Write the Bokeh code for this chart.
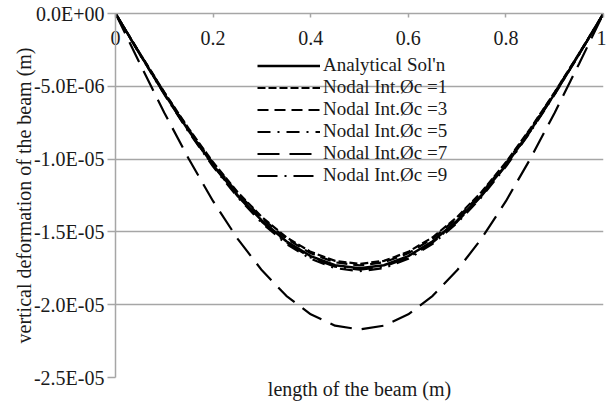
from bokeh.plotting import figure
from bokeh.models import (Range1d, LinearAxis, FixedTicker, CustomJSTickFormatter,
                          Legend, LegendItem)
from bokeh.embed import file_html
from bokeh.resources import INLINE

# ---- data, deflection in micrometres ----
x_pos = [0.0, 0.05, 0.1, 0.15, 0.2, 0.25, 0.3, 0.35, 0.4, 0.45, 0.5,
         0.55, 0.6, 0.65, 0.7, 0.75, 0.8, 0.85, 0.9, 0.95, 1.0]

analytical = [0, -2.79, -5.50, -8.05, -10.40, -12.47, -14.23, -15.64, -16.66, -17.29, -17.50,
              -17.29, -16.66, -15.64, -14.23, -12.47, -10.40, -8.05, -5.50, -2.79, 0]
nodal_1 = [0, -2.74, -5.40, -7.91, -10.22, -12.26, -13.98, -15.37, -16.37, -16.99, -17.20,
           -16.99, -16.37, -15.37, -13.98, -12.26, -10.22, -7.91, -5.40, -2.74, 0]
nodal_3 = [0, -2.75, -5.43, -7.96, -10.28, -12.33, -14.06, -15.46, -16.47, -17.09, -17.30,
           -17.09, -16.47, -15.46, -14.06, -12.33, -10.28, -7.96, -5.43, -2.75, 0]
nodal_5 = [0, -2.82, -5.56, -8.14, -10.51, -12.61, -14.39, -15.82, -16.85, -17.49, -17.70,
           -17.49, -16.85, -15.82, -14.39, -12.61, -10.51, -8.14, -5.56, -2.82, 0]
nodal_7 = [0, -3.45, -6.81, -9.98, -12.89, -15.46, -17.64, -19.39, -20.66, -21.44, -21.70,
           -21.44, -20.66, -19.39, -17.64, -15.46, -12.89, -9.98, -6.81, -3.45, 0]
nodal_9 = [0, -2.80, -5.53, -8.10, -10.45, -12.54, -14.31, -15.73, -16.76, -17.39, -17.60,
           -17.39, -16.76, -15.73, -14.31, -12.54, -10.45, -8.10, -5.53, -2.80, 0]
SCALE = 1e-6

x_ticks = [0, 0.2, 0.4, 0.6, 0.8, 1.0]
y_ticks = [0.0, -5e-6, -1e-5, -1.5e-5, -2e-5, -2.5e-5]

labels = ["Analytical Sol'n", "Nodal Int.Øc =1", "Nodal Int.Øc =3",
          "Nodal Int.Øc =5", "Nodal Int.Øc =7", "Nodal Int.Øc =9"]
series = [analytical, nodal_1, nodal_3, nodal_5, nodal_7, nodal_9]
dashes = ["solid", "8 3", "11 6", "13 7 2 7", "22 10", "20 7 2 7"]
widths = [2.5, 2.2, 2.2, 2.2, 2.2, 2.2]

FONT = "Liberation Serif"
FS = "20px"
GRID = "#a6a6a6"
TXT = "#1a1a1a"

p = figure(width=606, height=407, output_backend="svg", toolbar_location=None,
           x_range=Range1d(0, 1), y_range=Range1d(-2.5e-5, 0),
           x_axis_location="above", min_border_left=115, min_border_right=3,
           min_border_top=13, min_border_bottom=30)
p.outline_line_color = None
p.background_fill_color = "white"
p.border_fill_color = "white"

# top x axis with labels just under the line
xa = p.xaxis[0]
xa.ticker = FixedTicker(ticks=x_ticks)
xa.axis_line_color = GRID
xa.axis_line_width = 1.5
xa.major_tick_line_color = GRID
xa.major_tick_line_width = 1.5
xa.major_tick_in = 4
xa.major_tick_out = 0
xa.minor_tick_line_color = None
xa.major_label_standoff = -31
xa.major_label_text_font = FONT
xa.major_label_text_font_size = FS
xa.major_label_text_color = TXT

# bottom axis only carries the title
xb = LinearAxis(axis_label="length of the beam (m)")
xb.ticker = FixedTicker(ticks=[])
xb.axis_line_color = None
xb.major_tick_line_color = None
xb.minor_tick_line_color = None
xb.major_label_text_font_size = "0px"
xb.axis_label_standoff = 0
xb.axis_label_text_font = FONT
xb.axis_label_text_font_size = FS
xb.axis_label_text_font_style = "normal"
xb.axis_label_text_color = TXT
p.add_layout(xb, "below")

ya = p.yaxis[0]
ya.ticker = FixedTicker(ticks=y_ticks)
ya.formatter = CustomJSTickFormatter(code="""
    const s = tick.toExponential(1);
    let parts = s.split('e');
    let m = parts[0], e = parts[1];
    const sign = e[0] === '-' ? '-' : '+';
    e = e.replace('+', '').replace('-', '');
    if (e.length < 2) { e = '0' + e; }
    return m + 'E' + sign + e;
""")
ya.axis_line_color = GRID
ya.axis_line_width = 1.5
ya.major_tick_line_color = GRID
ya.major_tick_line_width = 1.5
ya.major_tick_in = 0
ya.major_tick_out = 8
ya.minor_tick_line_color = None
ya.major_label_standoff = 3
ya.major_label_text_font = FONT
ya.major_label_text_font_size = FS
ya.major_label_text_color = TXT
ya.axis_label = "vertical deformation of the beam (m)"
ya.axis_label_standoff = -4
ya.axis_label_text_font = FONT
ya.axis_label_text_font_size = FS
ya.axis_label_text_font_style = "normal"
ya.axis_label_text_color = TXT

p.xgrid.grid_line_color = None
p.ygrid.ticker = FixedTicker(ticks=y_ticks)
p.ygrid.grid_line_color = GRID
p.ygrid.grid_line_width = 1.5

items = []
for lab, ser, dash, w in zip(labels, series, dashes, widths):
    r = p.line(x_pos, [v * SCALE for v in ser], line_color="black",
               line_width=w, line_dash=dash)
    items.append(LegendItem(label=lab, renderers=[r]))

legend = Legend(items=items, location=(142, 191))
legend.background_fill_alpha = 0
legend.border_line_color = None
legend.padding = 0
legend.margin = 0
legend.spacing = 0
legend.label_height = 21
legend.glyph_height = 21
legend.glyph_width = 63
legend.label_standoff = 3
legend.label_text_font = FONT
legend.label_text_font_size = "19px"
legend.label_text_color = TXT
legend.label_text_line_height = 1.0
p.add_layout(legend, "center")

open("out.html", "w").write(file_html(p, INLINE))
